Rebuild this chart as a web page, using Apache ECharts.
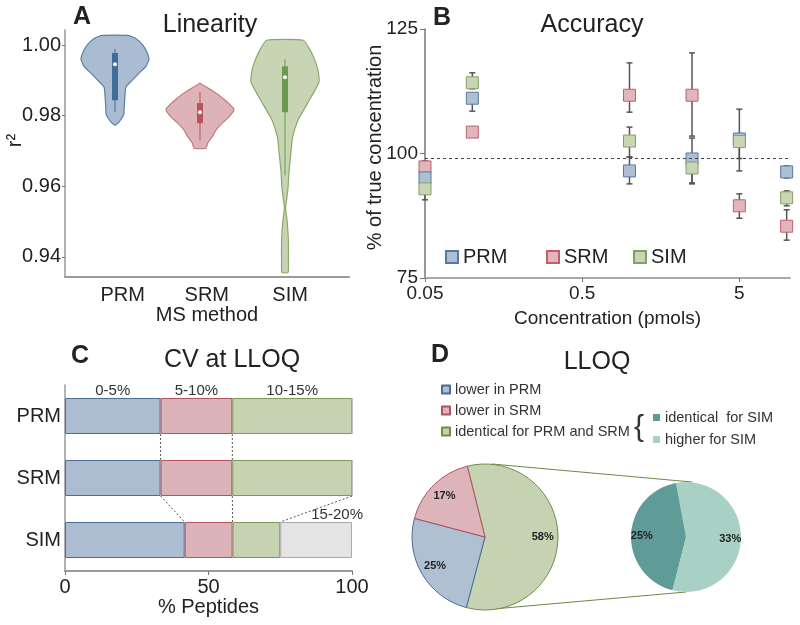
<!DOCTYPE html>
<html><head><meta charset="utf-8">
<script src="https://cdn.jsdelivr.net/npm/echarts@6/dist/echarts.min.js"></script>
<style>html,body{margin:0;padding:0;background:#fff}#c{width:800px;height:625px}</style>
</head><body><div id="c"></div>
<script>
// ---------------- Panel A : Linearity (violins) ----------------
const methods = ['PRM', 'SRM', 'SIM'];
const prmR2 = [1.0028, 1.0020, 1.0000, 0.9980, 0.9960, 0.9940, 0.9921, 0.9901, 0.9881, 0.9852, 0.9821, 0.9804, 0.9790, 0.9779, 0.9773];
const prmDensity = [0.37, 0.59, 0.82, 0.94, 1.00, 0.91, 0.71, 0.51, 0.32, 0.29, 0.27, 0.26, 0.18, 0.09, 0];
const srmR2 = [0.9892, 0.9872, 0.9844, 0.9818, 0.9796, 0.9779, 0.9759, 0.9739, 0.9722, 0.9708];
const srmDensity = [0, 0.35, 0.74, 1.00, 0.85, 0.65, 0.47, 0.35, 0.22, 0.18];
const simR2 = [1.0014, 0.9986, 0.9957, 0.9929, 0.9895, 0.9867, 0.9835, 0.9787, 0.9739, 0.9702, 0.9645, 0.9597, 0.9560, 0.9540, 0.9504, 0.9447, 0.9390, 0.9356];
const simDensity = [0.54, 0.74, 0.88, 0.97, 1.00, 0.85, 0.66, 0.38, 0.22, 0.18, 0.12, 0.09, 0.045, 0.015, 0.06, 0.10, 0.10, 0.09];
const whiskerLow = [0.9810, 0.9730, 0.9631];
const q1 = [0.9844, 0.9779, 0.9810];
const q3 = [0.9978, 0.9836, 0.9940];
const whiskerHigh = [0.9989, 0.9867, 0.9960];
const medians = [0.9946, 0.9810, 0.9909];
const r2Ticks = [0.94, 0.96, 0.98, 1.00];

// ---------------- Panel B : Accuracy ----------------
const concentrations = [0.05, 0.1, 1, 2.5, 5, 10];
const concTicks = [0.05, 0.5, 5];
const prmAcc = [95.1, 111.1, 96.5, 98.9, 102.9, 96.3];
const prmLow = [94.0, 108.5, 93.9, 94.1, 96.5, 95.1];
const prmHigh = [96.3, 111.1, 99.3, 103.1, 108.9, 97.5];
const srmAcc = [97.3, 104.3, 111.7, 111.7, 89.5, 85.4];
const srmLow = [96.0, 104.3, 108.3, 103.5, 87.0, 82.6];
const srmHigh = [98.5, 104.3, 118.2, 120.2, 91.9, 88.7];
const simAcc = [92.9, 114.2, 102.5, 97.1, 102.4, 91.1];
const simLow = [90.7, 113.0, 99.3, 93.9, 99.0, 89.5];
const simHigh = [95.0, 116.2, 105.3, 99.0, 104.0, 92.5];
const refLine = 99;

// ---------------- Panel C : CV at LLOQ ----------------
const cvRows = ['PRM', 'SRM', 'SIM'];
const cvBins = ['0-5%', '5-10%', '10-15%', '15-20%'];
const cv0to5 = [33.3, 33.3, 41.7];
const cv5to10 = [25.0, 25.0, 16.7];
const cv10to15 = [41.7, 41.7, 16.6];
const cv15to20 = [0, 0, 25.0];
const cvLabelRow = [0, 0, 0, 2];

// ---------------- Panel D : LLOQ ----------------
const lloqNames = ['identical for PRM and SRM', 'lower in PRM', 'lower in SRM'];
const lloqValues = [58, 25, 17];
const simNames = ['higher for SIM', 'identical  for SIM'];
const simValues = [33, 25];

// ---------------- styles ----------------
const FONT = '"Liberation Sans", Arial, Helvetica, sans-serif';
const fillC = { PRM: '#aebfd4', SRM: '#e0b5bb', SIM: '#c9d5b5' };
const strokeC = { PRM: '#5679a4', SRM: '#c0606c', SIM: '#85a063' };
const violinFill = ['#a9bcd1', '#ddb3b8', '#c8d5b4'];
const violinStroke = ['#5a7fa8', '#c27b85', '#8ba76b'];
const boxColor = ['#3f6c98', '#b9525f', '#6a9a4e'];

const violinR2 = [prmR2, srmR2, simR2];
const violinDensity = [prmDensity, srmDensity, simDensity];

function renderViolin(params, api) {
  const i = api.value(0);
  const ys = violinR2[i], ds = violinDensity[i];
  const W = 0.4;
  const pts = [];
  for (let k = 0; k < ys.length; k++) pts.push(api.coord([i + ds[k] * W, ys[k]]));
  for (let k = ys.length - 1; k >= 0; k--) pts.push(api.coord([i - ds[k] * W, ys[k]]));
  const c = api.coord([i, medians[i]]);
  const wl = api.coord([i, whiskerLow[i]]), wh = api.coord([i, whiskerHigh[i]]);
  const b1 = api.coord([i, q1[i]]), b3 = api.coord([i, q3[i]]);
  return {
    type: 'group', children: [
      { type: 'polygon', shape: { points: pts, smooth: 0.15 }, style: { fill: violinFill[i], stroke: violinStroke[i], lineWidth: 1.2 } },
      { type: 'line', shape: { x1: c[0], y1: wl[1], x2: c[0], y2: wh[1] }, style: { stroke: boxColor[i], lineWidth: 1 } },
      { type: 'rect', shape: { x: c[0] - 3, y: b3[1], width: 6, height: b1[1] - b3[1] }, style: { fill: boxColor[i] } },
      { type: 'circle', shape: { cx: c[0], cy: c[1], r: 2 }, style: { fill: '#ffffff' } }
    ]
  };
}

const xB = c => Math.log10(c / concentrations[0]);

function renderErr(params, api) {
  const x = api.value(0), lo = api.value(1), hi = api.value(2);
  if (lo === hi) return { type: 'group', children: [] };
  const a = api.coord([x, lo]), b = api.coord([x, hi]);
  const cw = 3;
  const st = { stroke: '#555555', lineWidth: 1.5 };
  return {
    type: 'group', children: [
      { type: 'line', shape: { x1: a[0], y1: a[1], x2: b[0], y2: b[1] }, style: st },
      { type: 'line', shape: { x1: a[0] - cw, y1: a[1], x2: a[0] + cw, y2: a[1] }, style: st },
      { type: 'line', shape: { x1: b[0] - cw, y1: b[1], x2: b[0] + cw, y2: b[1] }, style: st }
    ]
  };
}

function errData(low, high) {
  return concentrations.map((c, k) => [xB(c), low[k], high[k]]);
}
function accData(vals) {
  return concentrations.map((c, k) => [xB(c), vals[k]]);
}

// Panel C connectors: end of segment k in row r -> end of segment k in row r+1
const cvSeries = [cv0to5, cv5to10, cv10to15, cv15to20];
const cum = cvRows.map((_, r) => { let s = 0; return cvSeries.map(a => (s += a[r])); });
const connectors = [];
for (let r = 0; r < cvRows.length - 1; r++) {
  for (let k = 0; k < 3; k++) {
    const a = Math.min(100, cum[r][k]), b = Math.min(100, cum[r + 1][k]);
    if (a >= 99.9 && b >= 99.9) continue;
    connectors.push([a, r, b, r + 1]);
  }
}
const BAR_W = 36;
function renderConn(params, api) {
  const p1 = api.coord([api.value(0), api.value(1)]);
  const p2 = api.coord([api.value(2), api.value(3)]);
  return { type: 'line', shape: { x1: p1[0], y1: p1[1] + BAR_W / 2, x2: p2[0], y2: p2[1] - BAR_W / 2 },
    style: { stroke: '#555', lineWidth: 1, lineDash: [2, 2] } };
}

const cvFill = ['#adbdd1', '#dcb3b8', '#c6d3b3', '#e4e4e4'];
const cvStroke = ['#4a6f9a', '#b5525f', '#7a9a55', '#aaaaaa'];

// Pie layout
const PIE1 = { cx: 485, cy: 537, r: 73 };
const PIE2 = { cx: 686, cy: 537, r: 55 };
const pie1Fill = ['#c6d3b2', '#b0c0d3', '#ddb4b9'];
const pie1Stroke = ['#6f8c4a', '#4b6b96', '#b5505e'];
const pie2Fill = ['#a9d0c5', '#5f9c98'];

const axisLabelStyle = { color: '#222', fontSize: 20, fontFamily: FONT };
const nameStyle = { color: '#222', fontSize: 20, fontFamily: FONT };

const chart = echarts.init(document.getElementById('c'));
const option = {
  animation: false,
  backgroundColor: '#fff',
  textStyle: { fontFamily: FONT },
  grid: [
    { left: 65, top: 30, width: 284, height: 247 },
    { left: 425, top: 29, width: 365, height: 249 },
    { left: 65, top: 385, width: 287, height: 186 }
  ],
  xAxis: [
    { gridIndex: 0, type: 'value', min: -0.588, max: 2.753,
      axisLine: { onZero: false, lineStyle: { color: '#9a9a9a', width: 2 } }, axisTick: { show: false }, splitLine: { show: false },
      axisLabel: Object.assign({ customValues: [0.09, 1.08, 2.06], formatter: v => methods[Math.round(v)], margin: 8 }, axisLabelStyle),
      name: 'MS method', nameLocation: 'middle', nameGap: 25, nameTextStyle: nameStyle },
    { gridIndex: 1, type: 'value', min: 0, max: xB(10.5),
      axisLine: { onZero: false, lineStyle: { color: '#a8a8a8', width: 2 } },
      axisTick: { customValues: concTicks.map(xB), length: 4, lineStyle: { color: '#777' } },
      splitLine: { show: false },
      axisLabel: Object.assign({ customValues: concTicks.map(xB), formatter: v => String(+(concentrations[0] * Math.pow(10, v)).toPrecision(2)), margin: 6 }, axisLabelStyle, { fontSize: 19 }),
      name: 'Concentration (pmols)', nameLocation: 'middle', nameGap: 31, nameTextStyle: Object.assign({}, nameStyle, { fontSize: 19 }) },
    { gridIndex: 2, type: 'value', min: 0, max: 100, interval: 50,
      axisLine: { show: true, onZero: false, lineStyle: { color: '#9a9a9a', width: 2 } },
      axisTick: { show: true, length: 4, lineStyle: { color: '#777' } }, splitLine: { show: false },
      axisLabel: Object.assign({ margin: 6 }, axisLabelStyle),
      name: '% Peptides', nameLocation: 'middle', nameGap: 25, nameTextStyle: nameStyle }
  ],
  yAxis: [
    { gridIndex: 0, type: 'value', min: 0.9343, max: 1.0043,
      axisLine: { show: true, onZero: false, lineStyle: { color: '#9a9a9a', width: 1.5 } },
      axisTick: { show: true, customValues: r2Ticks, length: 3, lineStyle: { color: '#777' } },
      splitLine: { show: false },
      axisLabel: Object.assign({ customValues: r2Ticks, formatter: v => v.toFixed(2), margin: 4 }, axisLabelStyle),
      name: 'r²', nameLocation: 'middle', nameRotate: 90, nameGap: 40, nameMoveOverlap: false,
      nameTextStyle: Object.assign({}, nameStyle, { padding: [0, 0, 0, 26] }) },
    { gridIndex: 1, type: 'value', min: 75, max: 125, interval: 25,
      axisLine: { show: true, onZero: false, lineStyle: { color: '#77776a', width: 1.5 } },
      axisTick: { show: true, length: 5, lineStyle: { color: '#77776a' } }, splitLine: { show: false },
      axisLabel: Object.assign({ margin: 7 }, axisLabelStyle, { fontSize: 19 }),
      name: '% of true concentration', nameLocation: 'middle', nameRotate: 90, nameGap: 40, nameMoveOverlap: false,
      nameTextStyle: Object.assign({}, nameStyle, { padding: [0, 0, 0, 12] }) },
    { gridIndex: 2, type: 'category', data: cvRows, inverse: true,
      axisLine: { show: true, onZero: false, lineStyle: { color: '#9a9a9a', width: 1.5 } },
      axisTick: { show: false }, splitLine: { show: false },
      axisLabel: Object.assign({ margin: 4 }, axisLabelStyle) }
  ],
  legend: [
    { data: ['PRM'], left: 445, top: 247, padding: 0, icon: 'rect', itemWidth: 12, itemHeight: 12, textStyle: { fontSize: 20, color: '#222', lineHeight: 20 } },
    { data: ['SRM'], left: 546, top: 247, padding: 0, icon: 'rect', itemWidth: 12, itemHeight: 12, textStyle: { fontSize: 20, color: '#222', lineHeight: 20 } },
    { data: ['SIM'], left: 633, top: 247, padding: 0, icon: 'rect', itemWidth: 12, itemHeight: 12, textStyle: { fontSize: 20, color: '#222', lineHeight: 20 } },
    { data: ['lower in PRM', 'lower in SRM', 'identical for PRM and SRM'], orient: 'vertical', left: 441, top: 382, padding: 0,
      icon: 'rect', itemWidth: 8, itemHeight: 8, itemGap: 6, textStyle: { fontSize: 14.5, color: '#333', lineHeight: 15 } },
    { data: ['identical  for SIM', 'higher for SIM'], orient: 'vertical', left: 653, top: 410, padding: 0,
      icon: 'rect', itemWidth: 7, itemHeight: 7, itemGap: 7, textStyle: { fontSize: 14.5, color: '#333', lineHeight: 15 } }
  ],
  series: [
    // A
    { type: 'custom', xAxisIndex: 0, yAxisIndex: 0, renderItem: renderViolin, silent: true,
      data: methods.map((m, i) => [i, medians[i]]), encode: { x: 0, y: 1 }, clip: false },
    // B error bars
    { type: 'custom', name: 'errSRM', xAxisIndex: 1, yAxisIndex: 1, renderItem: renderErr, data: errData(srmLow, srmHigh), encode: { x: 0, y: [1, 2] }, silent: true, z: 1 },
    { type: 'custom', name: 'errPRM', xAxisIndex: 1, yAxisIndex: 1, renderItem: renderErr, data: errData(prmLow, prmHigh), encode: { x: 0, y: [1, 2] }, silent: true, z: 1 },
    { type: 'custom', name: 'errSIM', xAxisIndex: 1, yAxisIndex: 1, renderItem: renderErr, data: errData(simLow, simHigh), encode: { x: 0, y: [1, 2] }, silent: true, z: 1 },
    { type: 'scatter', name: 'SRM', xAxisIndex: 1, yAxisIndex: 1, symbol: 'rect', symbolSize: 12, z: 2, clip: false,
      itemStyle: { color: fillC.SRM, borderColor: strokeC.SRM, borderWidth: 1, opacity: 1 }, data: accData(srmAcc),
      markLine: { silent: true, symbol: 'none', label: { show: false }, lineStyle: { type: [3, 3], color: '#444', width: 1 }, data: [{ yAxis: refLine }] } },
    { type: 'scatter', name: 'PRM', xAxisIndex: 1, yAxisIndex: 1, symbol: 'rect', symbolSize: 12, z: 2, clip: false,
      itemStyle: { color: fillC.PRM, borderColor: strokeC.PRM, borderWidth: 1, opacity: 1 }, data: accData(prmAcc) },
    { type: 'scatter', name: 'SIM', xAxisIndex: 1, yAxisIndex: 1, symbol: 'rect', symbolSize: 12, z: 2, clip: false,
      itemStyle: { color: fillC.SIM, borderColor: strokeC.SIM, borderWidth: 1, opacity: 1 }, data: accData(simAcc) },
    // C stacked bars
    ...cvSeries.map((arr, k) => ({
      type: 'bar', name: cvBins[k], xAxisIndex: 2, yAxisIndex: 2, stack: 'cv', barWidth: BAR_W, silent: true,
      itemStyle: { color: cvFill[k], borderColor: cvStroke[k], borderWidth: 1 },
      data: arr.map((v, r) => ({ value: v, label: { show: r === cvLabelRow[k] } })),
      label: { position: 'top', distance: 0, formatter: cvBins[k], fontSize: 15, color: '#333', offset: k === 3 ? [21, 0] : [0, 0] }
    })),
    { type: 'custom', xAxisIndex: 2, yAxisIndex: 2, renderItem: renderConn, data: connectors, encode: { x: [0, 2], y: [1, 3] }, silent: true, z: 3 },
    // D pies
    { type: 'pie', name: 'lloq', center: [PIE1.cx, PIE1.cy], radius: PIE1.r, startAngle: 104, silent: true,
      label: { show: false }, labelLine: { show: false },
      data: lloqNames.map((n, i) => ({ name: n, value: lloqValues[i], itemStyle: { color: pie1Fill[i], borderColor: pie1Stroke[i], borderWidth: 1 } })) },
    { type: 'pie', name: 'lloqSim', center: [PIE2.cx, PIE2.cy], radius: PIE2.r, startAngle: 100.5, silent: true,
      label: { show: false }, labelLine: { show: false },
      data: simNames.map((n, i) => ({ name: n, value: simValues[i], itemStyle: { color: pie2Fill[i], borderWidth: 0 } })) },
    { type: 'pie', name: 'lloqLabels', center: [PIE1.cx, PIE1.cy], radius: [PIE1.r * 0.5, PIE1.r], startAngle: 104, silent: true,
      itemStyle: { color: 'rgba(0,0,0,0)', borderWidth: 0 }, labelLine: { show: false },
      label: { show: true, position: 'inside', formatter: p => p.value + '%', fontSize: 11, fontWeight: 'bold', color: '#222' },
      data: lloqNames.map((n, i) => ({ name: n + ' ', value: lloqValues[i] })), legendHoverLink: false },
    { type: 'pie', name: 'simLabels', center: [PIE2.cx, PIE2.cy], radius: [PIE2.r * 0.5, PIE2.r], startAngle: 100.5, silent: true,
      itemStyle: { color: 'rgba(0,0,0,0)', borderWidth: 0 }, labelLine: { show: false },
      label: { show: true, position: 'inside', formatter: p => p.value + '%', fontSize: 11, fontWeight: 'bold', color: '#222' },
      data: simNames.map((n, i) => ({ name: n + ' ', value: simValues[i] })) }
  ],
  graphic: [
    { type: 'text', x: 82, y: 17, style: { text: 'A', font: 'bold 25px ' + FONT, fill: '#222', align: 'center', verticalAlign: 'middle' } },
    { type: 'text', x: 210, y: 25, style: { text: 'Linearity', font: '25px ' + FONT, fill: '#222', align: 'center', verticalAlign: 'middle' } },
    { type: 'text', x: 442, y: 18, style: { text: 'B', font: 'bold 25px ' + FONT, fill: '#222', align: 'center', verticalAlign: 'middle' } },
    { type: 'text', x: 592, y: 25, style: { text: 'Accuracy', font: '25px ' + FONT, fill: '#222', align: 'center', verticalAlign: 'middle' } },
    { type: 'text', x: 80, y: 356, style: { text: 'C', font: 'bold 25px ' + FONT, fill: '#222', align: 'center', verticalAlign: 'middle' } },
    { type: 'text', x: 232, y: 360, style: { text: 'CV at LLOQ', font: '25px ' + FONT, fill: '#222', align: 'center', verticalAlign: 'middle' } },
    { type: 'text', x: 440, y: 355, style: { text: 'D', font: 'bold 25px ' + FONT, fill: '#222', align: 'center', verticalAlign: 'middle' } },
    { type: 'text', x: 597, y: 362, style: { text: 'LLOQ', font: '25px ' + FONT, fill: '#222', align: 'center', verticalAlign: 'middle' } },
    { type: 'text', x: 639, y: 428, style: { text: '{', font: '30px ' + FONT, fill: '#333', align: 'center', verticalAlign: 'middle' } },
    { type: 'line', shape: { x1: PIE1.cx + 7, y1: PIE1.cy - PIE1.r, x2: PIE2.cx + 6, y2: PIE2.cy - PIE2.r }, style: { stroke: '#6b8a45', lineWidth: 1.2 } },
    { type: 'line', shape: { x1: PIE1.cx + 8, y1: PIE1.cy + PIE1.r - 1, x2: PIE2.cx, y2: PIE2.cy + PIE2.r }, style: { stroke: '#6b8a45', lineWidth: 1.2 } }
  ]
};
chart.setOption(option);
</script>
</body></html>
